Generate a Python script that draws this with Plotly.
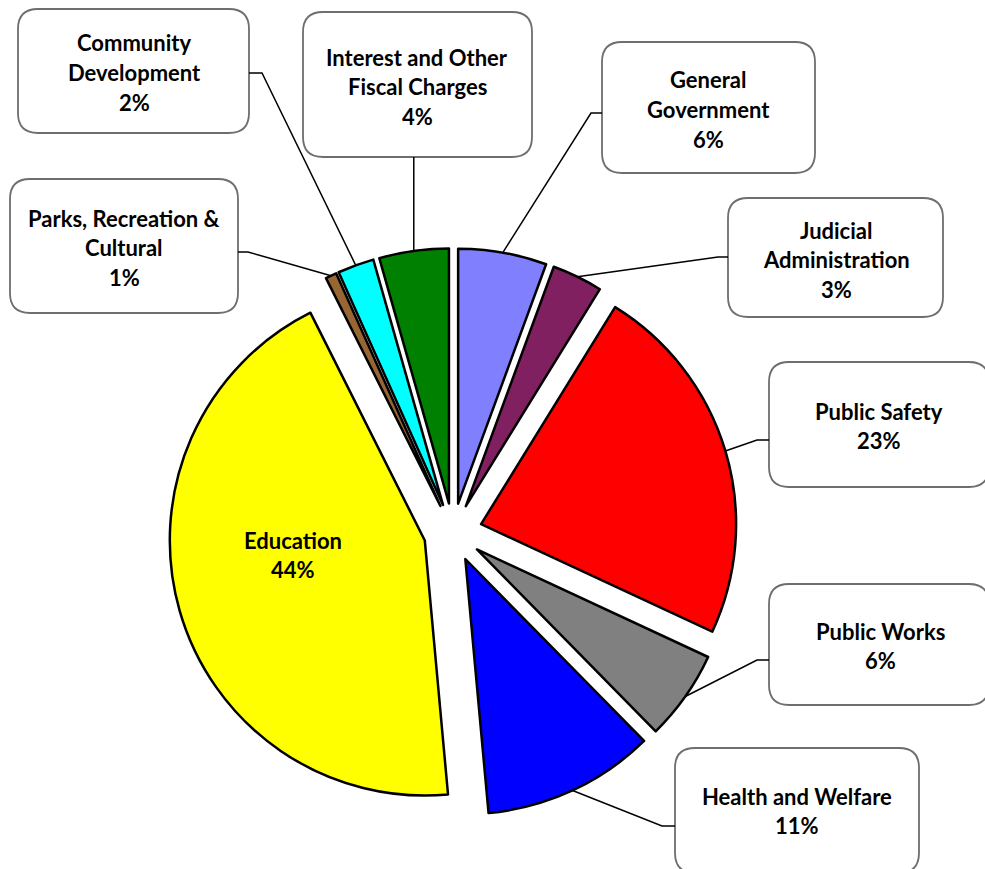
import math
import plotly.graph_objects as go

W, H = 985, 869

# ---------------- data ----------------
categories = ["General Government", "Judicial Administration", "Public Safety",
              "Public Works", "Health and Welfare", "Education",
              "Parks, Recreation & Cultural", "Community Development",
              "Interest and Other Fiscal Charges"]
values = [5.6, 3.2, 23.1, 5.7, 10.9, 44.0, 0.7, 2.3, 4.4]
pct_labels = ["6%", "3%", "23%", "6%", "11%", "44%", "1%", "2%", "4%"]
label_lines = [["General", "Government"], ["Judicial", "Administration"],
               ["Public Safety"], ["Public Works"], ["Health and Welfare"],
               ["Education"], ["Parks, Recreation &", "Cultural"],
               ["Community", "Development"], ["Interest and Other", "Fiscal Charges"]]
colors = ["#8080FF", "#802060", "#FF0000", "#808080", "#0000FF",
          "#FFFF00", "#996633", "#00FFFF", "#008000"]

# ---------------- layout helpers (pixels) ----------------
CX, CY, R, PULL = 453.0, 532.5, 255.0, 0.115
half = R * (1 + PULL)

def px(x):
    return x / W

def py(y):
    return 1 - y / H

# label box: (x0, y0, x1, y1), text centre x, first line y, attach point on box, elbow point
boxes = {
    "General Government": dict(rect=(602, 42, 815, 173), tx=708, ty=80, att=(602, 113), elb=(591, 113)),
    "Judicial Administration": dict(rect=(728, 198, 943, 317), tx=836, ty=230, att=(728, 257), elb=(718, 257)),
    "Public Safety": dict(rect=(769, 362, 989, 487), tx=879, ty=411, att=(769, 440), elb=(757, 440)),
    "Public Works": dict(rect=(769, 584, 989, 705), tx=880, ty=631, att=(769, 660), elb=(757, 660)),
    "Health and Welfare": dict(rect=(675, 748, 919, 873), tx=797, ty=796, att=(675, 826), elb=(662, 826)),
    "Education": dict(rect=None, tx=293, ty=540, att=None, elb=None),
    "Parks, Recreation & Cultural": dict(rect=(10, 179, 238, 313), tx=124, ty=218, att=(238, 252), elb=(248, 252)),
    "Community Development": dict(rect=(18, 9, 249, 133), tx=134, ty=43, att=(249, 73), elb=(262, 73)),
    "Interest and Other Fiscal Charges": dict(rect=(303, 12, 532, 157), tx=417, ty=57, att=None, elb=None),
}

LINE_H = 29.5
FONT = "Lato"
FS = 22

fig = go.Figure()
fig.add_trace(go.Pie(
    labels=categories, values=values, sort=False, direction="clockwise", rotation=0,
    pull=[PULL] * len(values), textinfo="none", hoverinfo="label+percent",
    marker=dict(colors=colors, line=dict(color="black", width=2.5)),
    domain=dict(x=[px(CX - half), px(CX + half)], y=[py(CY + half), py(CY - half)]),
    showlegend=False,
))

shapes = []
annotations = []

def rounded_rect(x0, y0, x1, y1, rad=20):
    pts = [
        f"M {px(x0 + rad)} {py(y0)}",
        f"L {px(x1 - rad)} {py(y0)}",
        f"Q {px(x1)} {py(y0)} {px(x1)} {py(y0 + rad)}",
        f"L {px(x1)} {py(y1 - rad)}",
        f"Q {px(x1)} {py(y1)} {px(x1 - rad)} {py(y1)}",
        f"L {px(x0 + rad)} {py(y1)}",
        f"Q {px(x0)} {py(y1)} {px(x0)} {py(y1 - rad)}",
        f"L {px(x0)} {py(y0 + rad)}",
        f"Q {px(x0)} {py(y0)} {px(x0 + rad)} {py(y0)}",
        "Z",
    ]
    return " ".join(pts)

total = sum(values)
cum = 0.0
for cat, v, pct, lines in zip(categories, values, pct_labels, label_lines):
    mid = (cum + v / 2) / total * 2 * math.pi
    cum += v
    dx, dy = math.sin(mid), -math.cos(mid)
    tipx, tipy = CX + PULL * R * dx, CY + PULL * R * dy
    ex, ey = tipx + R * dx, tipy + R * dy  # outer arc point at slice middle
    b = boxes[cat]
    if b["rect"] is not None:
        x0, y0, x1, y1 = b["rect"]
        shapes.append(dict(type="path", path=rounded_rect(x0, y0, x1, y1), xref="paper", yref="paper",
                           line=dict(color="#6E6E6E", width=1.8), fillcolor="white", layer="above"))
        if b["att"] is not None:
            ax, ay = b["att"]
            lx, ly = b["elb"]
            path = f"M {px(ax)} {py(ay)} L {px(lx)} {py(ly)} L {px(ex)} {py(ey)}"
        else:
            path = f"M {px(ex)} {py(y1)} L {px(ex)} {py(ey)}"
        shapes.append(dict(type="path", path=path, xref="paper", yref="paper",
                           line=dict(color="black", width=1.5), layer="above"))
    for i, t in enumerate(lines + [pct]):
        annotations.append(dict(
            x=px(b["tx"]), y=py(b["ty"] + i * LINE_H), xref="paper", yref="paper",
            text=f"<b>{t}</b>", showarrow=False, xanchor="center", yanchor="middle",
            font=dict(family=FONT, size=FS, color="black"),
        ))

fig.update_layout(
    width=W, height=H, margin=dict(l=0, r=0, t=0, b=0),
    paper_bgcolor="white", plot_bgcolor="white",
    shapes=shapes, annotations=annotations,
)

fig.write_html("out.html")
